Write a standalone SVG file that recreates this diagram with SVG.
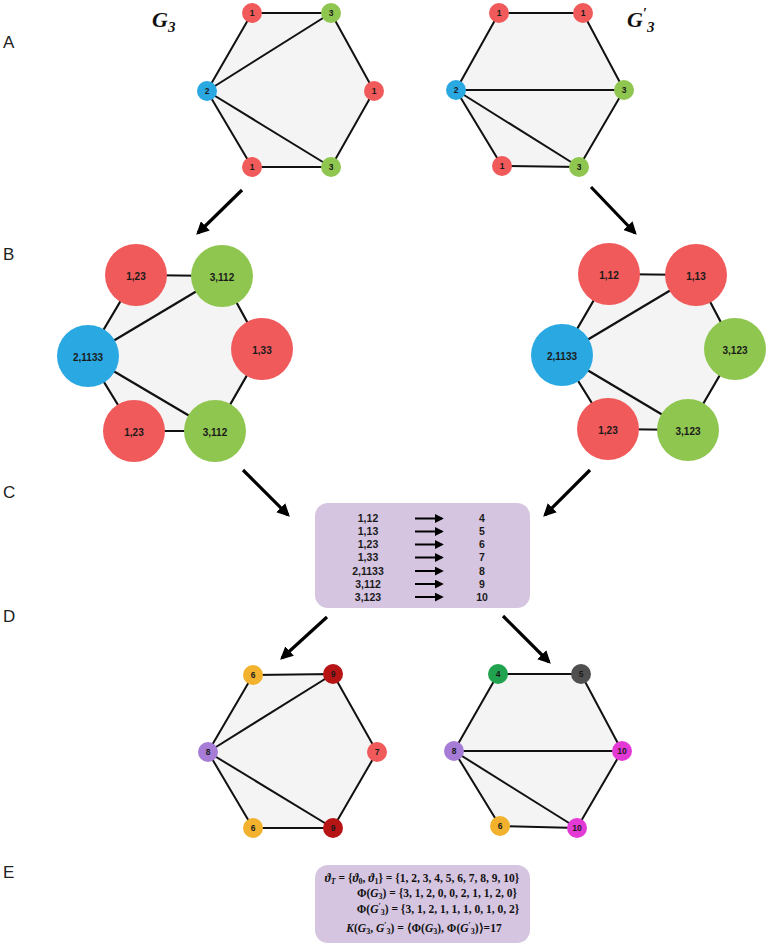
<svg xmlns="http://www.w3.org/2000/svg" width="768" height="944" viewBox="0 0 768 944">
<style>
.hex{fill:#f4f4f4;stroke:none}
.e{stroke:#111;stroke-width:2;fill:none}
.eb{stroke:#111;stroke-width:2.2;fill:none}
.red{fill:#f05a5b}.grn{fill:#8fc64f}.blu{fill:#2aa8e2}
.yel{fill:#f2b22e}.drd{fill:#b71416}.pur{fill:#a67cd6}.dgn{fill:#21a24f}.gry{fill:#4f4f4f}.mag{fill:#e43ad5}
.sl{font-family:"Liberation Sans",Arial,sans-serif;font-weight:bold;font-size:8.5px;fill:#1a1a1a;text-anchor:middle;dominant-baseline:central}
.bl{font-family:"Liberation Sans",Arial,sans-serif;font-weight:bold;font-size:10px;fill:#1a1a1a;text-anchor:middle;dominant-baseline:central}
.pl{font-family:"Liberation Sans",Arial,sans-serif;font-size:17px;fill:#222}
.gl{font-family:"Liberation Serif","Times New Roman",serif;font-weight:bold;font-style:italic;font-size:22px;fill:#111}
.tb{font-family:"Liberation Sans",Arial,sans-serif;font-weight:bold;font-size:10.5px;fill:#1a1a1a;text-anchor:middle}
.m{font-family:"Liberation Serif","Times New Roman",serif;font-weight:bold;font-size:11.5px;fill:#111;text-anchor:middle}
.i{font-style:italic}
.arr{stroke:#000;stroke-width:3.2;fill:none;marker-end:url(#ah)}
.sarr{stroke:#000;stroke-width:2;fill:none;marker-end:url(#sah)}
.box{fill:#d5c5e1}
</style>
<defs>
<marker id="ah" viewBox="0 0 10 10" refX="8" refY="5" markerWidth="4" markerHeight="4" orient="auto" markerUnits="strokeWidth">
<path d="M0,0 L10,5 L0,10 z" fill="#000"/>
</marker>
<marker id="sah" viewBox="0 0 10 10" refX="8" refY="5" markerWidth="4.5" markerHeight="4.5" orient="auto" markerUnits="strokeWidth">
<path d="M0,0 L10,5 L0,10 z" fill="#000"/>
</marker>
</defs>

<!-- panel letters -->
<text class="pl" x="3" y="48">A</text>
<text class="pl" x="3" y="260">B</text>
<text class="pl" x="3" y="498">C</text>
<text class="pl" x="3" y="622">D</text>
<text class="pl" x="3" y="878">E</text>

<!-- titles -->
<text class="gl" x="152" y="27">G<tspan font-size="15" dy="5">3</tspan></text>
<text class="gl" x="627" y="27">G<tspan font-size="15" dy="-9" font-style="normal">′</tspan><tspan font-size="15" dy="14">3</tspan></text>

<!-- connectors -->
<g id="connectors">
<line class="arr" x1="242" y1="190" x2="198" y2="233"/>
<line class="arr" x1="591" y1="187" x2="635" y2="233"/>
<line class="arr" x1="243" y1="470" x2="288" y2="515"/>
<line class="arr" x1="590" y1="470" x2="545" y2="515"/>
<line class="arr" x1="327" y1="617" x2="282" y2="658"/>
<line class="arr" x1="503" y1="616" x2="549" y2="662"/>
</g>

<!-- Panel A left -->
<g id="A-left">
<polygon class="hex" points="252,13 331,13 374,91 331,167 252,167 207,91"/>
<polyline class="e" points="252,13 331,13 374,91 331,167 252,167 207,91 252,13"/>
<line class="e" x1="207" y1="91" x2="331" y2="13"/>
<line class="e" x1="207" y1="91" x2="331" y2="167"/>
</g>
<g id="a1"><circle class="red" cx="252" cy="13" r="10"/><text class="sl" x="252" y="13">1</text></g>
<g id="a2"><circle class="grn" cx="331" cy="13" r="10"/><text class="sl" x="331" y="13">3</text></g>
<g id="a3"><circle class="red" cx="374" cy="91" r="10"/><text class="sl" x="374" y="91">1</text></g>
<g id="a4"><circle class="grn" cx="331" cy="167" r="10"/><text class="sl" x="331" y="167">3</text></g>
<g id="a5"><circle class="red" cx="252" cy="167" r="10"/><text class="sl" x="252" y="167">1</text></g>
<g id="a6"><circle class="blu" cx="207" cy="91" r="10"/><text class="sl" x="207" y="91">2</text></g>

<!-- Panel A right -->
<g id="A-right">
<polygon class="hex" points="499,13 583,13 624,90 579,167 502,166 456,90"/>
<polyline class="e" points="499,13 583,13 624,90 579,167 502,166 456,90 499,13"/>
<line class="e" x1="456" y1="90" x2="624" y2="90"/>
<line class="e" x1="456" y1="90" x2="579" y2="167"/>
</g>
<g id="ap1"><circle class="red" cx="499" cy="13" r="10"/><text class="sl" x="499" y="13">1</text></g>
<g id="ap2"><circle class="red" cx="583" cy="13" r="10"/><text class="sl" x="583" y="13">1</text></g>
<g id="ap3"><circle class="grn" cx="624" cy="90" r="10"/><text class="sl" x="624" y="90">3</text></g>
<g id="ap4"><circle class="grn" cx="579" cy="167" r="10"/><text class="sl" x="579" y="167">3</text></g>
<g id="ap5"><circle class="red" cx="502" cy="166" r="10"/><text class="sl" x="502" y="166">1</text></g>
<g id="ap6"><circle class="blu" cx="456" cy="90" r="10"/><text class="sl" x="456" y="90">2</text></g>

<!-- Panel B left -->
<g id="B-left">
<polygon class="hex" points="136,275 222,276 262,349 215,431 134,431 88,356"/>
<polyline class="eb" points="136,275 222,276 262,349 215,431 134,431 88,356 136,275"/>
<line class="eb" x1="88" y1="356" x2="222" y2="276"/>
<line class="eb" x1="88" y1="356" x2="215" y2="431"/>
</g>
<g id="b1"><circle class="red" cx="136" cy="275" r="31"/><text class="bl" x="136" y="276">1,23</text></g>
<g id="b2"><circle class="grn" cx="222" cy="276" r="31"/><text class="bl" x="222" y="277">3,112</text></g>
<g id="b3"><circle class="red" cx="262" cy="349" r="31"/><text class="bl" x="262" y="350">1,33</text></g>
<g id="b4"><circle class="grn" cx="215" cy="431" r="31"/><text class="bl" x="215" y="432">3,112</text></g>
<g id="b5"><circle class="red" cx="134" cy="431" r="31"/><text class="bl" x="134" y="432">1,23</text></g>
<g id="b6"><circle class="blu" cx="88" cy="356" r="31"/><text class="bl" x="88" y="357">2,1133</text></g>

<!-- Panel B right -->
<g id="B-right">
<polygon class="hex" points="609,274 696,275 735,349 688,430 608,429 562,355"/>
<polyline class="eb" points="609,274 696,275 735,349 688,430 608,429 562,355 609,274"/>
<line class="eb" x1="562" y1="355" x2="696" y2="275"/>
<line class="eb" x1="562" y1="355" x2="688" y2="430"/>
</g>
<g id="bp1"><circle class="red" cx="609" cy="274" r="31"/><text class="bl" x="609" y="275">1,12</text></g>
<g id="bp2"><circle class="red" cx="696" cy="275" r="31"/><text class="bl" x="696" y="276">1,13</text></g>
<g id="bp3"><circle class="grn" cx="735" cy="349" r="31"/><text class="bl" x="735" y="350">3,123</text></g>
<g id="bp4"><circle class="grn" cx="688" cy="430" r="31"/><text class="bl" x="688" y="431">3,123</text></g>
<g id="bp5"><circle class="red" cx="608" cy="429" r="31"/><text class="bl" x="608" y="430">1,23</text></g>
<g id="bp6"><circle class="blu" cx="562" cy="355" r="31"/><text class="bl" x="562" y="356">2,1133</text></g>

<!-- Panel C table -->
<g id="C-table">
<rect class="box" x="315" y="503" width="215" height="105" rx="13"/>
<text class="tb" x="368" y="522">1,12</text>
<text class="tb" x="368" y="535">1,13</text>
<text class="tb" x="368" y="548">1,23</text>
<text class="tb" x="368" y="561">1,33</text>
<text class="tb" x="368" y="575">2,1133</text>
<text class="tb" x="368" y="588">3,112</text>
<text class="tb" x="368" y="601">3,123</text>
<line class="sarr" x1="415" y1="518.5" x2="442" y2="518.5"/>
<line class="sarr" x1="415" y1="531.5" x2="442" y2="531.5"/>
<line class="sarr" x1="415" y1="544.5" x2="442" y2="544.5"/>
<line class="sarr" x1="415" y1="557.5" x2="442" y2="557.5"/>
<line class="sarr" x1="415" y1="571" x2="442" y2="571"/>
<line class="sarr" x1="415" y1="584" x2="442" y2="584"/>
<line class="sarr" x1="415" y1="597" x2="442" y2="597"/>
<text class="tb" x="482" y="522">4</text>
<text class="tb" x="482" y="535">5</text>
<text class="tb" x="482" y="548">6</text>
<text class="tb" x="482" y="561">7</text>
<text class="tb" x="482" y="575">8</text>
<text class="tb" x="482" y="588">9</text>
<text class="tb" x="482" y="601">10</text>
</g>

<!-- Panel D left -->
<g id="D-left">
<polygon class="hex" points="253,675 333,674 377,752 333,828 253,828 208,752"/>
<polyline class="e" points="253,675 333,674 377,752 333,828 253,828 208,752 253,675"/>
<line class="e" x1="208" y1="752" x2="333" y2="674"/>
<line class="e" x1="208" y1="752" x2="333" y2="828"/>
</g>
<g id="d1"><circle class="yel" cx="253" cy="675" r="10"/><text class="sl" x="253" y="675">6</text></g>
<g id="d2"><circle class="drd" cx="333" cy="674" r="10"/><text class="sl" x="333" y="674">9</text></g>
<g id="d3"><circle class="red" cx="377" cy="752" r="10"/><text class="sl" x="377" y="752">7</text></g>
<g id="d4"><circle class="drd" cx="333" cy="828" r="10"/><text class="sl" x="333" y="828">9</text></g>
<g id="d5"><circle class="yel" cx="253" cy="828" r="10"/><text class="sl" x="253" y="828">6</text></g>
<g id="d6"><circle class="pur" cx="208" cy="752" r="10"/><text class="sl" x="208" y="752">8</text></g>

<!-- Panel D right -->
<g id="D-right">
<polygon class="hex" points="498,674 581,674 622,751 577,828 500,826 454,751"/>
<polyline class="e" points="498,674 581,674 622,751 577,828 500,826 454,751 498,674"/>
<line class="e" x1="454" y1="751" x2="622" y2="751"/>
<line class="e" x1="454" y1="751" x2="577" y2="828"/>
</g>
<g id="dp1"><circle class="dgn" cx="498" cy="674" r="10"/><text class="sl" x="498" y="674">4</text></g>
<g id="dp2"><circle class="gry" cx="581" cy="674" r="10"/><text class="sl" x="581" y="674">5</text></g>
<g id="dp3"><circle class="mag" cx="622" cy="751" r="10"/><text class="sl" x="622" y="751">10</text></g>
<g id="dp4"><circle class="mag" cx="577" cy="828" r="10"/><text class="sl" x="577" y="828">10</text></g>
<g id="dp5"><circle class="yel" cx="500" cy="826" r="10"/><text class="sl" x="500" y="826">6</text></g>
<g id="dp6"><circle class="pur" cx="454" cy="751" r="10"/><text class="sl" x="454" y="751">8</text></g>

<!-- Panel E box -->
<g id="E-box">
<rect class="box" x="315" y="865" width="215" height="78" rx="13"/>
<text class="m" x="422" y="882"><tspan class="i">ϑ</tspan><tspan class="i" font-size="8" dy="2">T</tspan><tspan dy="-2"> = {</tspan><tspan class="i">ϑ</tspan><tspan font-size="8" dy="2">0</tspan><tspan dy="-2">, </tspan><tspan class="i">ϑ</tspan><tspan font-size="8" dy="2">1</tspan><tspan dy="-2">} = {1, 2, 3, 4, 5, 6, 7, 8, 9, 10}</tspan></text>
<text class="m" x="437" y="897">Φ(<tspan class="i">G</tspan><tspan font-size="8" dy="2">3</tspan><tspan dy="-2">) = {3, 1, 2, 0, 0, 2, 1, 1, 2, 0}</tspan></text>
<text class="m" x="438" y="913">Φ(<tspan class="i">G</tspan><tspan font-size="8" dy="-4">′</tspan><tspan font-size="8" dy="6">3</tspan><tspan dy="-2">) = {3, 1, 2, 1, 1, 1, 0, 1, 0, 2}</tspan></text>
<text class="m" x="424" y="932"><tspan class="i">K</tspan>(<tspan class="i">G</tspan><tspan font-size="8" dy="2">3</tspan><tspan dy="-2">, </tspan><tspan class="i">G</tspan><tspan font-size="8" dy="-4">′</tspan><tspan font-size="8" dy="6">3</tspan><tspan dy="-2">) = ⟨Φ(</tspan><tspan class="i">G</tspan><tspan font-size="8" dy="2">3</tspan><tspan dy="-2">), Φ(</tspan><tspan class="i">G</tspan><tspan font-size="8" dy="-4">′</tspan><tspan font-size="8" dy="6">3</tspan><tspan dy="-2">)⟩=17</tspan></text>
</g>
</svg>
